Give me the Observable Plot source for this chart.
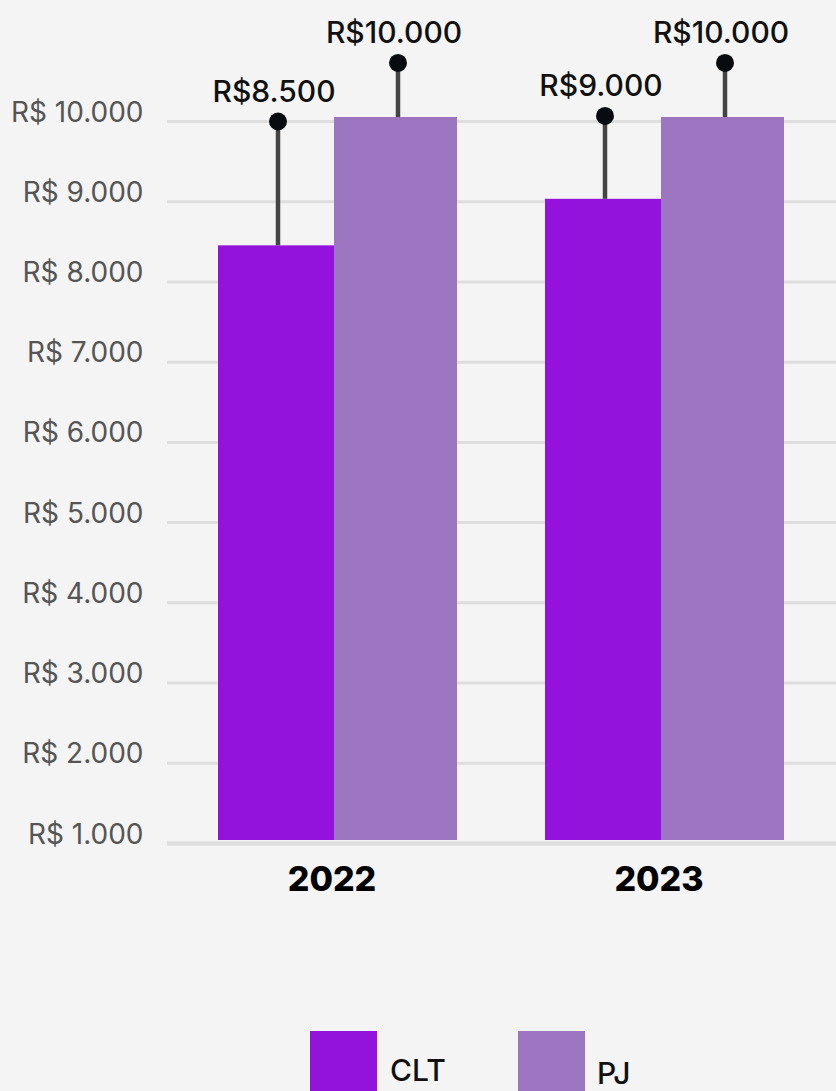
<!DOCTYPE html>
<html>
<head>
<meta charset="utf-8">
<script src="https://cdn.jsdelivr.net/npm/d3@7"></script>
<script src="https://cdn.jsdelivr.net/npm/@observablehq/plot@0.6"></script>
<style>
  html, body { margin: 0; padding: 0; background: #f4f4f4; }
  #wrap { position: relative; width: 836px; height: 1091px; overflow: hidden; background: #f4f4f4; font-family: Inter, "Open Sans", sans-serif; }
  #chart { position: absolute; left: 0; top: 0; }
  .sw { position: absolute; width: 67px; height: 67px; }
  .lb { position: absolute; font-size: 30px; line-height: 30px; font-weight: 500; color: #111; }
</style>
</head>
<body>
<div id="wrap">
  <div id="chart"></div>
  <div id="legend"></div>
</div>
<script>
// ---- data ----
const years = ["2022", "2023"];
const series = ["CLT", "PJ"];
const colors = ["#9413dc", "#9d76c1"];
const cltValues = [8450, 9030];          // bar tops
const pjValues = [10050, 10050];
const cltMarkers = [10000, 10070];       // lollipop dot positions
const pjMarkers = [10730, 10730];
const cltLabels = ["R$8.500", "R$9.000"];
const pjLabels = ["R$10.000", "R$10.000"];
const yTicks = [1000, 2000, 3000, 4000, 5000, 6000, 7000, 8000, 9000, 10000];

const clt = years.map((yr, i) => ({year: yr, series: "CLT", value: cltValues[i], marker: cltMarkers[i], label: cltLabels[i]}));
const pj = years.map((yr, i) => ({year: yr, series: "PJ", value: pjValues[i], marker: pjMarkers[i], label: pjLabels[i]}));

const fmt = d => "R$ " + d3.format(",")(d).replace(/,/g, ".");

const H = 940;

function seriesMarks(rows, side) {
  const inset = side < 0 ? {insetRight: 120} : {insetLeft: 116};
  const off = side * 60;
  return [
    Plot.barY(rows, {x: "year", y1: 1000, y2: "value", fill: "series", insetBottom: 3, ...inset}),
    Plot.ruleX(rows, {x: "year", y1: "value", y2: "marker", dx: off, stroke: "#444", strokeWidth: 4.5}),
    Plot.dot(rows, {x: "year", y: "marker", dx: off, r: 9, fill: "#080c10", stroke: "none"}),
    Plot.text(rows, {x: "year", y: "marker", text: "label", dx: off - 4, dy: -20, lineAnchor: "bottom", fontSize: 30, fontWeight: 500, fill: "#111"})
  ];
}

const chart = Plot.plot({
  width: 836,
  height: H,
  marginLeft: 167,
  marginRight: 0,
  marginTop: 121,
  marginBottom: 97,
  style: {background: "transparent", fontFamily: "Inter, sans-serif", overflow: "visible"},
  x: {domain: years, paddingInner: 0.268, paddingOuter: 0.154, axis: null},
  y: {domain: [1000, 10000], axis: null},
  color: {domain: series, range: colors},
  marks: [
    Plot.ruleY(yTicks, {y: d => d, stroke: "#dedede", strokeWidth: d => d === 1000 ? 4.5 : 3}),
    Plot.text(yTicks, {y: d => d, text: d => fmt(d), frameAnchor: "left", textAnchor: "end", lineAnchor: "bottom", dx: -24, dy: 0, fontSize: 28, fontWeight: 400, fill: "#555"}),
    ...seriesMarks(clt, -1),
    ...seriesMarks(pj, 1),
    Plot.text(years, {x: d => d, text: d => d, frameAnchor: "bottom", lineAnchor: "bottom", dy: 47, dx: -6, fontSize: 34, fontWeight: 800, fill: "#000"})
  ]
});
document.getElementById("chart").appendChild(chart);

// ---- legend (HTML, below the svg) ----
const legend = document.getElementById("legend");
const legendPos = [{sq: 310, tx: 390, top: 1055}, {sq: 518, tx: 597, top: 1058}];
series.forEach((s, i) => {
  const sw = document.createElement("div");
  sw.className = "sw";
  sw.style.left = legendPos[i].sq + "px";
  sw.style.top = "1031px";
  sw.style.background = colors[i];
  legend.appendChild(sw);
  const lb = document.createElement("div");
  lb.className = "lb";
  lb.style.left = legendPos[i].tx + "px";
  lb.style.top = legendPos[i].top + "px";
  lb.textContent = s;
  legend.appendChild(lb);
});
</script>
</body>
</html>
